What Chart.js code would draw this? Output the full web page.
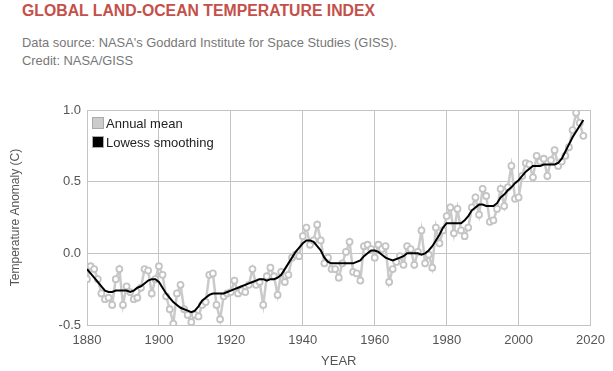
<!DOCTYPE html>
<html lang="en">
<head>
  <meta charset="UTF-8" />
  <title>Global Land-Ocean Temperature Index</title>
  <script src="https://cdn.jsdelivr.net/npm/chart.js"></script>
  <style>
    body {
      margin: 0;
      background: #fff;
      font-family: Arial, 'Liberation Sans', sans-serif;
      width: 613px;
      height: 371px;
      overflow: hidden;
      position: relative;
    }
    #chart {
      position: absolute;
      left: 0;
      top: 0;
    }
    .title {
      position: absolute;
      left: 22px;
      top: 2px;
      font-size: 15.8px;
      font-weight: bold;
      color: #c4504a;
      white-space: nowrap;
    }
    .sub {
      position: absolute;
      left: 22px;
      top: 34px;
      font-size: 12.9px;
      line-height: 18px;
      color: #777;
      white-space: nowrap;
    }
    .legend {
      position: absolute;
      left: 92px;
      top: 116px;
      font-size: 13px;
      color: #222;
    }
    .legend div {
      height: 19px;
      line-height: 15px;
      white-space: nowrap;
    }
    .legend span.box {
      display: inline-block;
      width: 10px;
      height: 10px;
      border: 1px solid #aaa;
      vertical-align: -1px;
      margin-right: 2px;
    }
  </style>
</head>
<body>
  <div class="title">GLOBAL LAND-OCEAN TEMPERATURE INDEX</div>
  <div class="sub">Data source: NASA's Goddard Institute for Space Studies (GISS).<br>Credit: NASA/GISS</div>
  <canvas id="chart" width="613" height="371"></canvas>
  <div class="legend">
    <div><span class="box" style="background:#ccc"></span>Annual mean</div>
    <div><span class="box" style="background:#000"></span>Lowess smoothing</div>
  </div>

<script>
  // years 1880..2018
  const years = [];
  for (let y = 1880; y <= 2018; y++) years.push(y);

  const annualMean = [
    -0.18, -0.09, -0.11, -0.18, -0.28, -0.32, -0.31, -0.36, -0.18, -0.11,
    -0.36, -0.23, -0.27, -0.32, -0.31, -0.24, -0.11, -0.12, -0.28, -0.18,
    -0.09, -0.15, -0.30, -0.39, -0.49, -0.28, -0.22, -0.39, -0.43, -0.48,
    -0.43, -0.44, -0.36, -0.34, -0.15, -0.14, -0.36, -0.46, -0.30, -0.28,
    -0.27, -0.19, -0.28, -0.26, -0.27, -0.22, -0.11, -0.22, -0.20, -0.36,
    -0.16, -0.10, -0.16, -0.29, -0.13, -0.20, -0.15, -0.03, -0.01, -0.02,
     0.12,  0.18,  0.06,  0.09,  0.20,  0.09, -0.07, -0.03, -0.11, -0.11,
    -0.17, -0.07,  0.01,  0.08, -0.13, -0.14, -0.19,  0.05,  0.06,  0.03,
    -0.03,  0.06,  0.03,  0.05, -0.20, -0.11, -0.06, -0.02, -0.08,  0.05,
     0.03, -0.08,  0.01,  0.16, -0.07, -0.01, -0.10,  0.18,  0.07,  0.16,
     0.26,  0.32,  0.14,  0.31,  0.16,  0.12,  0.18,  0.32,  0.39,  0.27,
     0.45,  0.40,  0.22,  0.23,  0.31,  0.45,  0.33,  0.46,  0.61,  0.38,
     0.39,  0.54,  0.63,  0.62,  0.53,  0.68,  0.64,  0.66,  0.54,  0.65,
     0.72,  0.61,  0.64,  0.68,  0.74,  0.86,  0.98,  0.91,  0.82
  ];

  const lowess = [
    -0.11, -0.14, -0.17, -0.20, -0.23, -0.26, -0.27, -0.27, -0.26, -0.26,
    -0.26, -0.26, -0.27, -0.26, -0.24, -0.23, -0.21, -0.19, -0.18, -0.18,
    -0.20, -0.24, -0.28, -0.31, -0.34, -0.36, -0.38, -0.39, -0.40, -0.41,
    -0.40, -0.37, -0.33, -0.31, -0.29, -0.28, -0.28, -0.28, -0.28, -0.27,
    -0.26, -0.25, -0.24, -0.23, -0.22, -0.21, -0.20, -0.19, -0.18, -0.18,
    -0.19, -0.18, -0.18, -0.17, -0.15, -0.11, -0.07, -0.03,  0.01,  0.04,
     0.07,  0.09,  0.09,  0.08,  0.05,  0.02, -0.03, -0.06, -0.07, -0.07,
    -0.07, -0.07, -0.07, -0.07, -0.07, -0.06, -0.05, -0.02,  0.00,  0.02,
     0.02,  0.01, -0.01, -0.03, -0.04, -0.05, -0.04, -0.03, -0.02,  0.00,
     0.00,  0.00,  0.00, -0.01,  0.00,  0.02,  0.05,  0.09,  0.13,  0.18,
     0.21,  0.21,  0.21,  0.21,  0.21,  0.23,  0.26,  0.30,  0.32,  0.34,
     0.34,  0.33,  0.33,  0.33,  0.35,  0.39,  0.41,  0.44,  0.46,  0.49,
     0.51,  0.54,  0.57,  0.59,  0.61,  0.61,  0.61,  0.62,  0.62,  0.62,
     0.62,  0.63,  0.66,  0.71,  0.76,  0.81,  0.85,  0.89,  0.93
  ];

  const xTicks = [1880, 1900, 1920, 1940, 1960, 1980, 2000, 2020];
  const yTicks = [-0.5, 0.0, 0.5, 1.0];

  const toPoints = vals => years.map((yr, i) => ({ x: yr, y: vals[i] }));

  const gridColor = '#c4c4c4';
  const labelColor = '#555';

  new Chart(document.getElementById('chart'), {
    type: 'line',
    data: {
      datasets: [
        {
          label: 'Lowess smoothing',
          data: toPoints(lowess),
          borderColor: '#000',
          borderWidth: 2,
          pointRadius: 0,
          tension: 0,
          order: 0
        },
        {
          label: 'Annual mean',
          data: toPoints(annualMean),
          borderColor: '#cacaca',
          borderWidth: 2.5,
          pointRadius: 3,
          pointBorderWidth: 1.8,
          pointBackgroundColor: '#fff',
          pointBorderColor: '#c4c4c4',
          tension: 0,
          order: 1
        }
      ]
    },
    options: {
      responsive: false,
      animation: false,
      layout: { padding: { top: 110, right: 16, left: 0, bottom: 0 } },
      plugins: {
        legend: { display: false },
        tooltip: { enabled: false }
      },
      scales: {
        x: {
          type: 'linear',
          min: xTicks[0],
          max: xTicks[xTicks.length - 1],
          afterFit: s => { s.height = 46; },
          afterBuildTicks: s => { s.ticks = xTicks.map(v => ({ value: v })); },
          grid: { color: gridColor, drawTicks: false },
          border: { color: gridColor },
          ticks: {
            padding: 8,
            color: labelColor,
            font: { family: 'Arial, Liberation Sans', size: 13 },
            callback: v => String(v),
            maxRotation: 0
          },
          title: {
            display: true,
            text: 'YEAR',
            color: labelColor,
            font: { family: 'Arial, Liberation Sans', size: 13 },
            padding: { top: 0, bottom: 2 }
          }
        },
        y: {
          min: yTicks[0],
          max: yTicks[yTicks.length - 1],
          afterFit: s => { s.width = 87; },
          afterBuildTicks: s => { s.ticks = yTicks.map(v => ({ value: v })); },
          grid: { color: gridColor, drawTicks: false },
          border: { color: gridColor },
          ticks: {
            padding: 6,
            color: labelColor,
            font: { family: 'Arial, Liberation Sans', size: 13 },
            callback: v => v.toFixed(1)
          },
          title: {
            display: true,
            text: 'Temperature Anomaly (C)',
            color: labelColor,
            font: { family: 'Arial, Liberation Sans', size: 12 },
            padding: { top: 8, bottom: 0 }
          }
        }
      }
    }
  });
</script>
</body>
</html>
